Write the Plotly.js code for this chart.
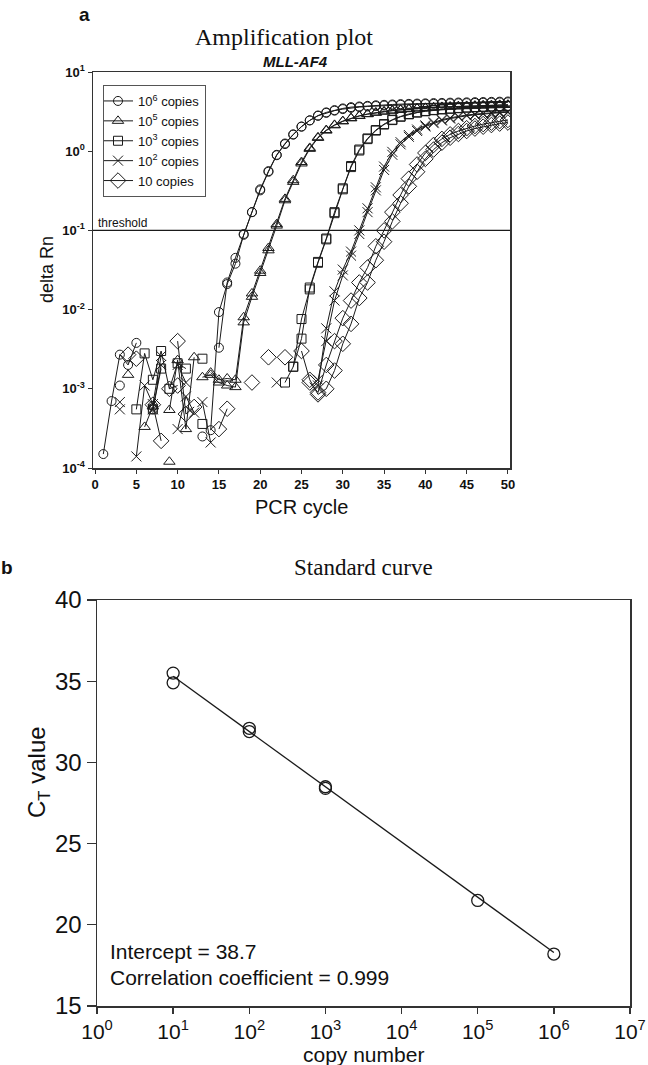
<!DOCTYPE html>
<html><head><meta charset="utf-8">
<script src="https://cdn.plot.ly/plotly-3.0.1.min.js"></script>
<style>html,body{margin:0;padding:0;background:#fff}#chart{width:648px;height:1065px}</style>
</head><body><div id="chart"></div>
<script>
// ---------- Panel a: amplification plot ----------
const cycles = [1,2,3,4,5,6,7,8,9,10,11,12,13,14,15,16,17,18,19,20,21,22,23,24,25,26,27,28,29,30,31,32,33,34,35,36,37,38,39,40,41,42,43,44,45,46,47,48,49,50];

const copies1e6_rep1 = [1.5e-4,7.0e-4,2.7e-3,2.0e-3,3.8e-3,null,5.5e-4,null,null,null,null,null,2.5e-4,null,3.3e-3,2.2e-2,4.5e-2,9.0e-2,0.17,0.32,0.55,0.89,1.23,1.62,2.04,2.45,2.82,3.09,3.3,3.47,3.6,3.67,3.74,3.8,3.85,3.89,3.93,3.96,3.99,4.02,4.05,4.07,4.1,4.12,4.14,4.16,4.18,4.2,4.22,4.24];
const copies1e6_rep2 = [null,null,1.1e-3,null,null,null,6.1e-4,null,null,null,null,null,null,3.0e-4,9.3e-3,2.1e-2,3.8e-2,8.8e-2,0.17,0.33,0.56,0.9,1.25,1.63,2.05,2.45,2.8,3.05,3.25,3.4,3.52,3.6,3.67,3.72,3.77,3.81,3.85,3.88,3.91,3.94,3.96,3.99,4.01,4.03,4.05,4.07,4.09,4.11,4.13,4.15];

const copies1e5_rep1 = [null,null,null,1.5e-3,null,3.3e-4,6.0e-4,null,5.4e-4,2.3e-3,3.1e-4,2.5e-3,null,1.6e-3,1.3e-3,1.35e-3,1.3e-3,8.0e-3,1.6e-2,3.1e-2,6.0e-2,0.12,0.25,0.43,0.73,1.1,1.5,1.85,2.15,2.4,2.62,2.8,2.95,3.08,3.18,3.27,3.35,3.42,3.48,3.53,3.58,3.62,3.66,3.7,3.73,3.76,3.79,3.82,3.85,3.87];
const copies1e5_rep2 = [null,null,null,null,null,null,null,null,1.2e-4,null,null,null,1.4e-3,1.5e-3,1.2e-3,1.1e-3,1.05e-3,6.9e-3,1.45e-2,2.9e-2,5.6e-2,0.115,0.24,0.41,0.7,1.07,1.47,1.82,2.12,2.38,2.6,2.78,2.93,3.05,3.15,3.24,3.32,3.39,3.45,3.5,3.55,3.59,3.63,3.67,3.7,3.73,3.76,3.79,3.81,3.83];

const copies1e3_rep1 = [null,null,null,null,5.5e-4,2.8e-3,1.3e-3,3.0e-3,1.0e-3,2.1e-3,1.8e-3,null,2.4e-3,null,null,null,null,null,null,null,null,null,1.2e-3,1.9e-3,4.3e-3,1.9e-2,4.0e-2,7.9e-2,0.17,0.34,0.65,1.05,1.45,1.85,2.2,2.5,2.75,2.95,3.1,3.22,3.32,3.4,3.46,3.52,3.57,3.61,3.65,3.68,3.71,3.74];
const copies1e3_rep2 = [null,null,null,null,null,null,5.5e-4,1.8e-3,null,null,null,null,3.6e-4,null,null,null,null,null,null,null,null,null,null,1.9e-3,7.6e-3,1.8e-2,3.9e-2,7.7e-2,0.165,0.33,0.63,1.02,1.42,1.82,2.17,2.47,2.72,2.92,3.07,3.19,3.29,3.37,3.43,3.49,3.54,3.58,3.62,3.65,3.68,3.71];

const copies1e2_rep1 = [null,null,6.8e-4,null,1.4e-4,1.1e-3,6.4e-4,2.6e-3,null,2.0e-3,1.2e-3,null,6.8e-4,2.1e-4,null,null,null,null,null,null,null,1.2e-3,null,null,null,null,1.1e-3,5.8e-3,1.7e-2,3.2e-2,5.4e-2,0.1,0.19,0.35,0.64,0.98,1.3,1.6,1.88,2.12,2.32,2.5,2.64,2.76,2.86,2.94,3.01,3.07,3.12,3.17];
const copies1e2_rep2 = [null,null,5.5e-4,null,null,null,5.5e-4,2.0e-3,null,3.1e-4,8.0e-4,5.0e-4,null,null,null,null,null,null,null,null,null,null,null,null,null,null,1.3e-3,4.0e-3,1.3e-2,2.7e-2,4.8e-2,9.0e-2,0.17,0.32,0.58,0.9,1.22,1.52,1.8,2.05,2.26,2.44,2.58,2.7,2.8,2.88,2.95,3.01,3.06,3.1];

const copies10_rep1 = [null,null,null,2.7e-3,null,null,6.3e-4,2.2e-4,null,4.0e-3,4.8e-4,5.9e-4,null,null,3.1e-4,5.6e-4,null,null,1.2e-3,null,null,null,2.5e-3,null,null,1.2e-3,9.0e-4,2.0e-3,4.0e-3,7.8e-3,1.3e-2,2.2e-2,3.4e-2,6.3e-2,0.1,0.17,0.28,0.45,0.68,0.95,1.2,1.43,1.63,1.8,1.95,2.08,2.2,2.3,2.4,2.48];
const copies10_rep2 = [null,null,null,null,2.4e-3,null,null,null,1.0e-3,1.1e-3,null,null,null,null,null,null,null,null,null,null,2.5e-3,null,null,null,3.0e-3,1.3e-3,8.5e-4,1.0e-3,1.7e-3,3.7e-3,6.6e-3,1.4e-2,2.2e-2,4.2e-2,7.2e-2,0.13,0.22,0.36,0.55,0.8,1.05,1.28,1.48,1.65,1.8,1.93,2.04,2.14,2.23,2.3];

const seriesNames = ["10<sup>6</sup> copies","10<sup>5</sup> copies","10<sup>3</sup> copies","10<sup>2</sup> copies","10 copies"];
const thresholdValue = 0.1;
const xTickValsA = [0,5,10,15,20,25,30,35,40,45,50];
const yTickValsA = [1e-4,1e-3,1e-2,1e-1,1,10];
const yTickTextA = ["10<sup>-4</sup>","10<sup>-3</sup>","10<sup>-2</sup>","10<sup>-1</sup>","10<sup>0</sup>","10<sup>1</sup>"];

// ---------- Panel b: standard curve ----------
const copyNumber = [10,10,100,100,1000,1000,100000,1000000];
const ctValue = [35.5,34.9,32.1,31.9,28.5,28.4,21.5,18.2];
const fitCopy = [10,1000000];
const fitCt = [35.3,18.3];
const xTickValsB = [1,10,100,1000,10000,100000,1000000,10000000];
const xTickTextB = ["10<sup>0</sup>","10<sup>1</sup>","10<sup>2</sup>","10<sup>3</sup>","10<sup>4</sup>","10<sup>5</sup>","10<sup>6</sup>","10<sup>7</sup>"];
const yTickValsB = [15,20,25,30,35,40];

// ---------- build ----------
const W = 648, H = 1065;
const px = v => v / W, py = v => 1 - v / H;
const ink = '#1a1a1a';
const sans = 'Liberation Sans, Arial, sans-serif';
const serif = 'Liberation Serif, Times New Roman, serif';

const groups = [
  {reps:[copies1e6_rep1,copies1e6_rep2], sym:'circle-open', size:9},
  {reps:[copies1e5_rep1,copies1e5_rep2], sym:'triangle-up-open', size:10},
  {reps:[copies1e3_rep1,copies1e3_rep2], sym:'square-open', size:9},
  {reps:[copies1e2_rep1,copies1e2_rep2], sym:'x-thin-open', size:10},
  {reps:[copies10_rep1,copies10_rep2], sym:'diamond-open', size:12}
];
const traces = [];
groups.forEach((g, gi) => {
  g.reps.forEach((rep, ri) => {
    traces.push({
      x: cycles, y: rep, type:'scatter', mode:'lines+markers',
      name: seriesNames[gi], legendgroup:'g'+gi, showlegend: ri === 0,
      connectgaps:false, xaxis:'x', yaxis:'y',
      line:{color:ink, width:1},
      marker:{symbol:g.sym, size:g.size, color:ink, line:{color:ink, width:1}},
      hoverinfo:'skip'
    });
  });
});
traces.push({x:fitCopy, y:fitCt, type:'scatter', mode:'lines', xaxis:'x2', yaxis:'y2',
  line:{color:ink, width:1.3}, showlegend:false, hoverinfo:'skip'});
traces.push({x:copyNumber, y:ctValue, type:'scatter', mode:'markers', xaxis:'x2', yaxis:'y2',
  marker:{symbol:'circle-open', size:12, color:ink, line:{color:ink, width:1.3}}, showlegend:false, hoverinfo:'skip'});

const axisCommon = {showline:true, linecolor:'#333', linewidth:1.5, mirror:true, ticks:'outside',
  tickcolor:'#333', showgrid:false, zeroline:false};
const topTickFont = {size:13, family:sans, color:'#111', weight:'bold'};
const botTickFontX = {size:21, family:sans, color:'#111'};
const botTickFontY = {size:24, family:sans, color:'#111'};

function note(text, x, y, size, extra) {
  return Object.assign({text:text, x:px(x), y:py(y), xref:'paper', yref:'paper', showarrow:false,
    xanchor:'center', yanchor:'middle', font:{size:size, family:sans, color:'#111'}}, extra || {});
}

const layout = {
  width:W, height:H, margin:{l:0,r:0,t:0,b:0}, paper_bgcolor:'#fff', plot_bgcolor:'#fff',
  font:{family:sans, color:'#111'},
  xaxis: Object.assign({}, axisCommon, {domain:[px(93),px(510)], anchor:'y', range:[-0.25,50.25],
    tickvals:xTickValsA, ticklen:4, tickwidth:1, tickfont:topTickFont}),
  yaxis: Object.assign({}, axisCommon, {domain:[py(468),py(72)], anchor:'x', type:'log', range:[-4,1],
    tickvals:yTickValsA, ticktext:yTickTextA, ticklen:4, tickwidth:1, tickfont:topTickFont}),
  xaxis2: Object.assign({}, axisCommon, {domain:[px(97),px(630)], anchor:'y2', type:'log', range:[0,7],
    tickvals:xTickValsB, ticktext:xTickTextB, ticklen:6, tickwidth:1.3, tickfont:botTickFontX}),
  yaxis2: Object.assign({}, axisCommon, {domain:[py(1006),py(600)], anchor:'x2', range:[15,40],
    tickvals:yTickValsB, ticklen:9, tickwidth:1.3, tickfont:botTickFontY}),
  shapes:[{type:'line', xref:'x domain', x0:0, x1:1, yref:'y', y0:thresholdValue, y1:thresholdValue, line:{color:ink, width:1.2}}],
  legend:{x:px(103), y:py(85), xanchor:'left', yanchor:'top', bgcolor:'#fff', bordercolor:'#555', borderwidth:1,
    font:{size:13, family:sans, color:'#111'}, itemwidth:30, indentation:-6, tracegroupgap:0, traceorder:'normal'},
  annotations:[
    note('<b>a</b>', 84, 15, 19),
    note('Amplification plot', 284, 37, 24, {font:{size:24, family:serif, color:'#111'}}),
    note('<b><i>MLL-AF4</i></b>', 295, 62, 15),
    note('threshold', 96, 223, 12, {xanchor:'left'}),
    note('delta Rn', 47, 270, 18, {textangle:-90}),
    note('PCR cycle', 301, 507, 20),
    note('<b>b</b>', 7, 567, 19),
    note('Standard curve', 363, 567, 23, {font:{size:23, family:serif, color:'#111'}}),
    note('C<sub>T</sub> value', 38, 772, 24, {textangle:-90}),
    note('copy number', 363, 1054, 21),
    note('Intercept = 38.7', 108, 951, 21, {xanchor:'left'}),
    note('Correlation coefficient = 0.999', 108, 977, 21, {xanchor:'left'})
  ]
};
Plotly.newPlot('chart', traces, layout, {staticPlot:true, displayModeBar:false});
</script></body></html>
